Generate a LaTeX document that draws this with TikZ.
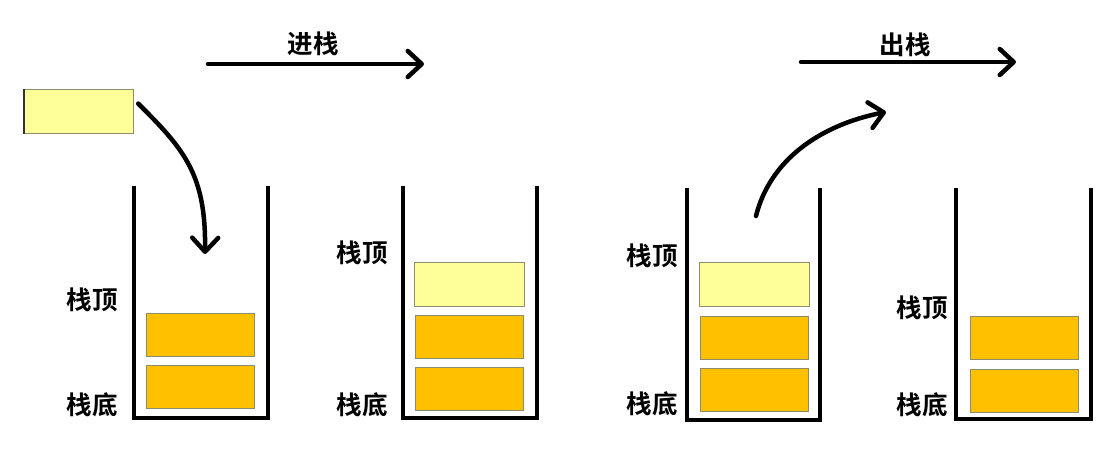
\documentclass[tikz,border=0pt]{standalone}
\usepackage{fontspec}
\newfontfamily\cjk{Noto Sans CJK SC Bold}
\usetikzlibrary{arrows.meta}
\definecolor{boxorange}{HTML}{FFC000}
\definecolor{boxyellow}{HTML}{FFFF99}
\definecolor{boxedge}{HTML}{8C8C6E}
\begin{document}
\begin{tikzpicture}[x=1pt,y=-1pt,
  wall/.style={line width=4.5pt,line cap=butt,line join=miter},
  obox/.style={draw=boxedge,line width=1.2pt,fill=boxorange,minimum width=108pt,minimum height=43pt,inner sep=0pt,anchor=north west},
  ybox/.style={draw=boxedge,line width=1.2pt,fill=boxyellow,minimum width=110pt,minimum height=44pt,inner sep=0pt,anchor=north west},
  lbl/.style={font=\cjk\fontsize{25.5}{25.5}\selectfont,inner sep=0pt},
  arr/.style={line width=4.5pt,line cap=round,-{Straight Barb[length=14pt,width=26pt,line cap=round,line join=round]}}]
\useasboundingbox (0,0) rectangle (1118,454);
% containers
\draw[wall] (134,186) -- (134,418) -- (268,418) -- (268,186);
\draw[wall] (403,186) -- (403,418) -- (537,418) -- (537,186);
\draw[wall] (687,188) -- (687,420) -- (820,420) -- (820,188);
\draw[wall] (956,188) -- (956,419) -- (1091,419) -- (1091,188);
% container 1
\node[ybox] (free) at (23,89) {};
\draw[line width=2pt,black!80] ([xshift=1pt]free.north west) -- ([xshift=1pt]free.south west);
\node[obox] (a1) at (146,313) {};
\node[obox] (a2) at (146,365) {};
\node[lbl] (a1t) at (92,300) {栈顶};
\node[lbl] (a1b) at (92,405) {栈底};
% container 2
\node[ybox] (b3) at (414,262) {};
\node[obox] (b1) at (415,315) {};
\node[obox] (b2) at (415,367) {};
\node[lbl] (b1t) at (362,253) {栈顶};
\node[lbl] (b1b) at (362,405) {栈底};
% container 3
\node[ybox] (c3) at (699,262) {};
\node[obox] (c1) at (700,316) {};
\node[obox] (c2) at (700,368) {};
\node[lbl] (c1t) at (652,256) {栈顶};
\node[lbl] (c1b) at (652,404) {栈底};
% container 4
\node[obox] (d1) at (970,316) {};
\node[obox] (d2) at (970,369) {};
\node[lbl] (d1t) at (922,308) {栈顶};
\node[lbl] (d1b) at (922,405) {栈底};
% top arrows
\coordinate (p1s) at (208,64);
\coordinate (p1e) at (424,64);
\draw[arr] (p1s) -- (p1e);
\node[lbl] (push) at (313,44) {进栈};
\coordinate (p2s) at (801,62);
\coordinate (p2e) at (1016,62);
\draw[arr] (p2s) -- (p2e);
\node[lbl] (pop) at (905,45) {出栈};
% curved arrows
\coordinate (inpt) at (205,254);
\draw[arr] (free.east) ++(4,-8) coordinate (fs) .. controls (185,150) and (206,175) .. (inpt);
\coordinate (os) at (756,216);
\coordinate (oe) at (886,112);
\draw[arr] (os) .. controls (770,160) and (820,125) .. (oe);
\end{tikzpicture}
\end{document}
